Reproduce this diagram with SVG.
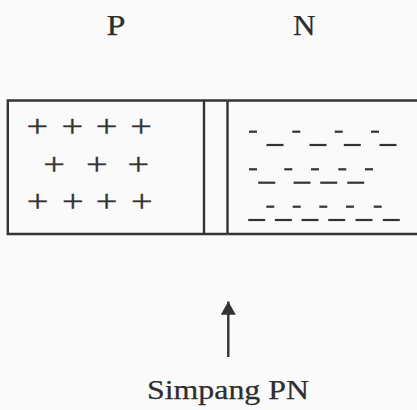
<svg xmlns="http://www.w3.org/2000/svg" width="417" height="410" viewBox="0 0 417 410">
  <defs>
    <style>
      .label { font-family: "Liberation Serif", "Times New Roman", serif; fill: #2e2e2e; stroke: #2e2e2e; stroke-width: 0.25; }
      .frame { fill: none; stroke: #333; stroke-width: 2.4; }
      .charge { font-family: "Liberation Serif", "Times New Roman", serif; font-size: 32px; fill: #333; stroke: #333; stroke-width: 0.3; text-anchor: middle; }
      .neg line { stroke: #333; stroke-width: 2.2; }
      .conn { stroke: #333; stroke-width: 2.4; fill: none; }
    </style>
    <marker id="head" viewBox="0 0 14 16" refX="14" refY="8" markerWidth="14" markerHeight="15" markerUnits="userSpaceOnUse" orient="auto">
      <path d="M0,0 L14,8 L0,16 Z" fill="#333"/>
    </marker>
  </defs>

  <rect x="0" y="0" width="417" height="410" fill="#fafafa"/>

  <!-- region labels -->
  <g id="label-p">
    <text class="label" x="106.5" y="34.5" font-size="30" textLength="19" lengthAdjust="spacingAndGlyphs">P</text>
  </g>
  <g id="label-n">
    <text class="label" x="293" y="34.5" font-size="30" textLength="22.5" lengthAdjust="spacingAndGlyphs">N</text>
  </g>

  <!-- P-type region with holes -->
  <g id="p-region">
    <path class="frame" d="M204,100.5 H7.8 V234 H204"/>
    <g class="charge" transform="scale(1.2 1)">
      <text x="31.1 60.3 88.9 117.5" y="137.5">++++</text>
      <text x="45 80.6 115.3" y="175.5">+++</text>
      <text x="31.4 60.6 88.9 118.1" y="212.5">++++</text>
    </g>
  </g>

  <!-- depletion layer at the junction -->
  <g id="junction">
    <path class="frame" d="M204,100.5 V234 M227.5,100.5 V234 M204,100.5 H227.5 M204,234 H227.5"/>
  </g>

  <!-- N-type region with electrons -->
  <g id="n-region">
    <path class="frame" d="M227.5,100.5 H420 M227.5,234 H420"/>
    <g class="neg">
      <line x1="249" y1="131.7" x2="257" y2="131.7"/>
      <line x1="292.3" y1="131.7" x2="300.3" y2="131.7"/>
      <line x1="334.7" y1="131.7" x2="342.7" y2="131.7"/>
      <line x1="371" y1="131.7" x2="379" y2="131.7"/>

      <line x1="266.5" y1="145" x2="283.5" y2="145"/>
      <line x1="309.5" y1="145" x2="326.5" y2="145"/>
      <line x1="343.8" y1="145" x2="360.8" y2="145"/>
      <line x1="379.5" y1="145" x2="396.5" y2="145"/>

      <line x1="249" y1="169.3" x2="257" y2="169.3"/>
      <line x1="284.3" y1="169.3" x2="292.3" y2="169.3"/>
      <line x1="311" y1="169.3" x2="319" y2="169.3"/>
      <line x1="338.3" y1="169.3" x2="346.3" y2="169.3"/>
      <line x1="365" y1="169.3" x2="373" y2="169.3"/>

      <line x1="258.2" y1="182.7" x2="275.2" y2="182.7"/>
      <line x1="293.5" y1="182.7" x2="310.5" y2="182.7"/>
      <line x1="320.2" y1="182.7" x2="337.2" y2="182.7"/>
      <line x1="347.2" y1="182.7" x2="364.2" y2="182.7"/>

      <line x1="266.3" y1="206.7" x2="274.3" y2="206.7"/>
      <line x1="292.7" y1="206.7" x2="300.7" y2="206.7"/>
      <line x1="319.3" y1="206.7" x2="327.3" y2="206.7"/>
      <line x1="346" y1="206.7" x2="354" y2="206.7"/>
      <line x1="373.7" y1="206.7" x2="381.7" y2="206.7"/>

      <line x1="248.2" y1="220" x2="265.2" y2="220"/>
      <line x1="274.8" y1="220" x2="291.8" y2="220"/>
      <line x1="301.5" y1="220" x2="318.5" y2="220"/>
      <line x1="328.2" y1="220" x2="345.2" y2="220"/>
      <line x1="355.5" y1="220" x2="372.5" y2="220"/>
      <line x1="382.8" y1="220" x2="399.8" y2="220"/>
    </g>
  </g>

  <!-- pointer to the junction -->
  <g id="connectors">
    <line class="conn" x1="228.3" y1="357" x2="228.3" y2="301.5" marker-end="url(#head)"/>
  </g>

  <g id="label-junction">
    <text class="label" x="147" y="398.5" font-size="27" textLength="162" lengthAdjust="spacingAndGlyphs">Simpang PN</text>
  </g>
</svg>
